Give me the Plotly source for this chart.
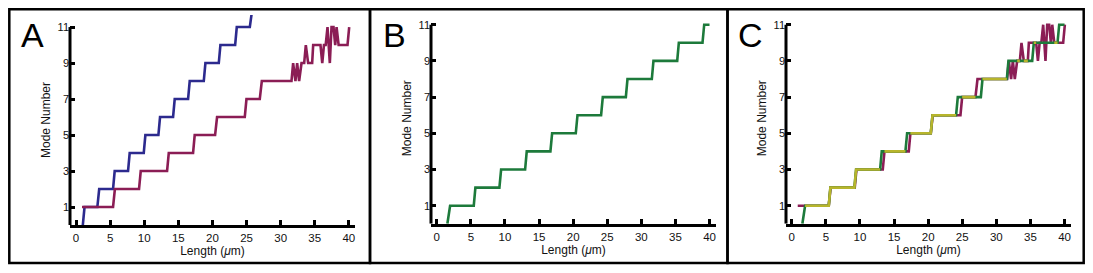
import plotly.graph_objects as go

# The page adds an 8px body margin, so the figure covers reference pixels 8..1085 x 8..265
OFF = 8
W, H = 1093 - 2 * OFF, 273 - 2 * OFF

# ---------------- data ----------------
blue_x = [1.0, 1.25, 3.13, 3.40, 5.43, 5.67, 7.63, 7.87, 9.93, 10.17, 12.08, 12.32,
          14.23, 14.47, 16.43, 16.67, 18.73, 18.97, 20.93, 21.17, 23.33, 23.57, 25.48, 25.84]
blue_y = [0, 1, 1, 2, 2, 3, 3, 4, 4, 5, 5, 6, 6, 7, 7, 8, 8, 9, 9, 10, 10, 11, 11, 12]

maroon_x = [0.88, 5.43, 5.70, 9.24, 9.49, 13.35, 13.60, 17.16, 17.40, 20.39, 20.68,
            24.74, 24.99, 26.94, 27.24, 31.59, 31.83, 32.17, 32.42, 32.71, 33.06,
            33.45, 33.69, 34.03, 34.62, 34.77, 35.84, 36.10, 36.35, 36.60, 36.87,
            37.21, 37.46, 37.75, 38.00, 38.20, 38.50, 39.80, 40.05]
maroon_y = [1, 1, 2, 2, 3, 3, 4, 4, 5, 5, 6,
            6, 7, 7, 8, 8, 9, 8, 9, 8, 9,
            9, 10, 9, 9, 10, 10, 9, 10, 10, 11,
            9, 11, 11, 10, 11, 10, 10, 11]

green_x = [1.56, 1.96, 5.43, 5.67, 9.19, 9.44, 12.96, 13.20, 16.67, 16.92, 20.39, 20.64,
           24.10, 24.35, 27.73, 27.97, 31.54, 31.78, 35.26, 35.50, 38.97, 39.22, 40.0]
green_y = [0, 1, 1, 2, 2, 3, 3, 4, 4, 5, 5, 6, 6, 7, 7, 8, 8, 9, 9, 10, 10, 11, 11]

# overlap of the two curves in panel C (drawn in yellow)
yellow_x = [1.96, 5.43, 5.67, 9.19, 9.44, 12.96, None, 13.60, 16.67, None,
            17.40, 20.39, 20.64, 24.10, None, 24.99, 26.94, None, 27.97, 31.54, None,
            33.06, 33.45, None, 34.03, 34.62, None, 35.50, 35.84, None, 38.50, 38.97]
yellow_y = [1, 1, 2, 2, 3, 3, None, 4, 4, None,
            5, 5, 6, 6, None, 7, 7, None, 8, 8, None,
            9, 9, None, 9, 9, None, 10, 10, None, 10, 10]

x_ticks = [0, 5, 10, 15, 20, 25, 30, 35, 40]
y_ticks = [1, 3, 5, 7, 9, 11]
panel_letters = ["A", "B", "C"]

BLUE = "#2c2a8e"
MAROON = "#8b1d55"
GREEN = "#1d7a3b"
YELLOW = "#b7b52c"
FONT = "Liberation Sans, Arial, sans-serif"
LW = 2.6

# ---------------- layout geometry (reference pixels) ----------------
def px_x(p):
    return (p - OFF) / W

def px_y(p):
    return 1 - (p - OFF) / H

panels = [
    dict(x=(70, 355), y=(225, 15), xr=[-0.88, 40.9]),
    dict(x=(431, 716), y=(223.8, 12.6), xr=[-0.84, 40.95]),
    dict(x=(786, 1071), y=(223.8, 12.6), xr=[-0.84, 40.95]),
]
boxes = [(9.3, 370), (370, 727.5), (727.5, 1083.7)]
letter_x = [19, 381, 736]

fig = go.Figure()

def add_line(xs, ys, color, i):
    fig.add_trace(go.Scatter(
        x=xs, y=ys, mode="lines", line=dict(color=color, width=LW),
        xaxis="x" if i == 0 else f"x{i+1}", yaxis="y" if i == 0 else f"y{i+1}",
        showlegend=False, hoverinfo="skip", connectgaps=False))

add_line(blue_x, blue_y, BLUE, 0)
add_line(maroon_x, maroon_y, MAROON, 0)
add_line(green_x, green_y, GREEN, 1)
add_line(maroon_x, maroon_y, MAROON, 2)
add_line(green_x, green_y, GREEN, 2)
add_line(yellow_x, yellow_y, YELLOW, 2)

layout = dict(
    width=W, height=H, margin=dict(l=0, r=0, t=0, b=0, autoexpand=False),
    paper_bgcolor="white", plot_bgcolor="white",
    font=dict(family=FONT, color="#111"),
    shapes=[], annotations=[],
)

for i, p in enumerate(panels):
    xs = "" if i == 0 else str(i + 1)
    layout[f"xaxis{xs}"] = dict(
        domain=[px_x(p["x"][0]), px_x(p["x"][1])], range=p["xr"],
        anchor=f"y{xs}", showgrid=False, zeroline=False, automargin=False,
        showline=True, linecolor="black", linewidth=3,
        ticks="inside", ticklen=5, tickwidth=2.5, tickcolor="black",
        tickvals=x_ticks, tickfont=dict(size=11.5, family=FONT, color="#111"),
        title=dict(text="Length (<i>\u03bc</i>m)", font=dict(size=12, family=FONT, color="#111"),
                   standoff=2),
    )
    layout[f"yaxis{xs}"] = dict(
        domain=[px_y(p["y"][0]), px_y(p["y"][1])], range=[0, 11.67],
        anchor=f"x{xs}", showgrid=False, zeroline=False, showline=False, automargin=False,
        ticks="inside", ticklen=5, tickwidth=2.5, tickcolor="black",
        tickvals=y_ticks, tickfont=dict(size=11, family=FONT, color="#111"),
        title=dict(text="Mode Number", font=dict(size=12, family=FONT, color="#111"),
                   standoff=4),
    )
    # y-axis spine from 0 to the top tick
    layout["shapes"].append(dict(
        type="line", xref=f"x{xs} domain", yref=f"y{xs}", x0=0, x1=0, y0=0, y1=11,
        line=dict(color="black", width=3)))
    layout["annotations"].append(dict(
        text=panel_letters[i], xref="paper", yref="paper",
        x=px_x(letter_x[i]), y=px_y(14), xanchor="left", yanchor="top",
        showarrow=False, font=dict(size=34, family=FONT, color="black")))

for (a, b) in boxes:
    layout["shapes"].append(dict(
        type="rect", xref="paper", yref="paper",
        x0=px_x(a), x1=px_x(b), y0=px_y(263), y1=px_y(9.3),
        line=dict(color="black", width=2.5), fillcolor="rgba(0,0,0,0)", layer="above"))

fig.update_layout(**layout)
fig.write_html("out.html")
